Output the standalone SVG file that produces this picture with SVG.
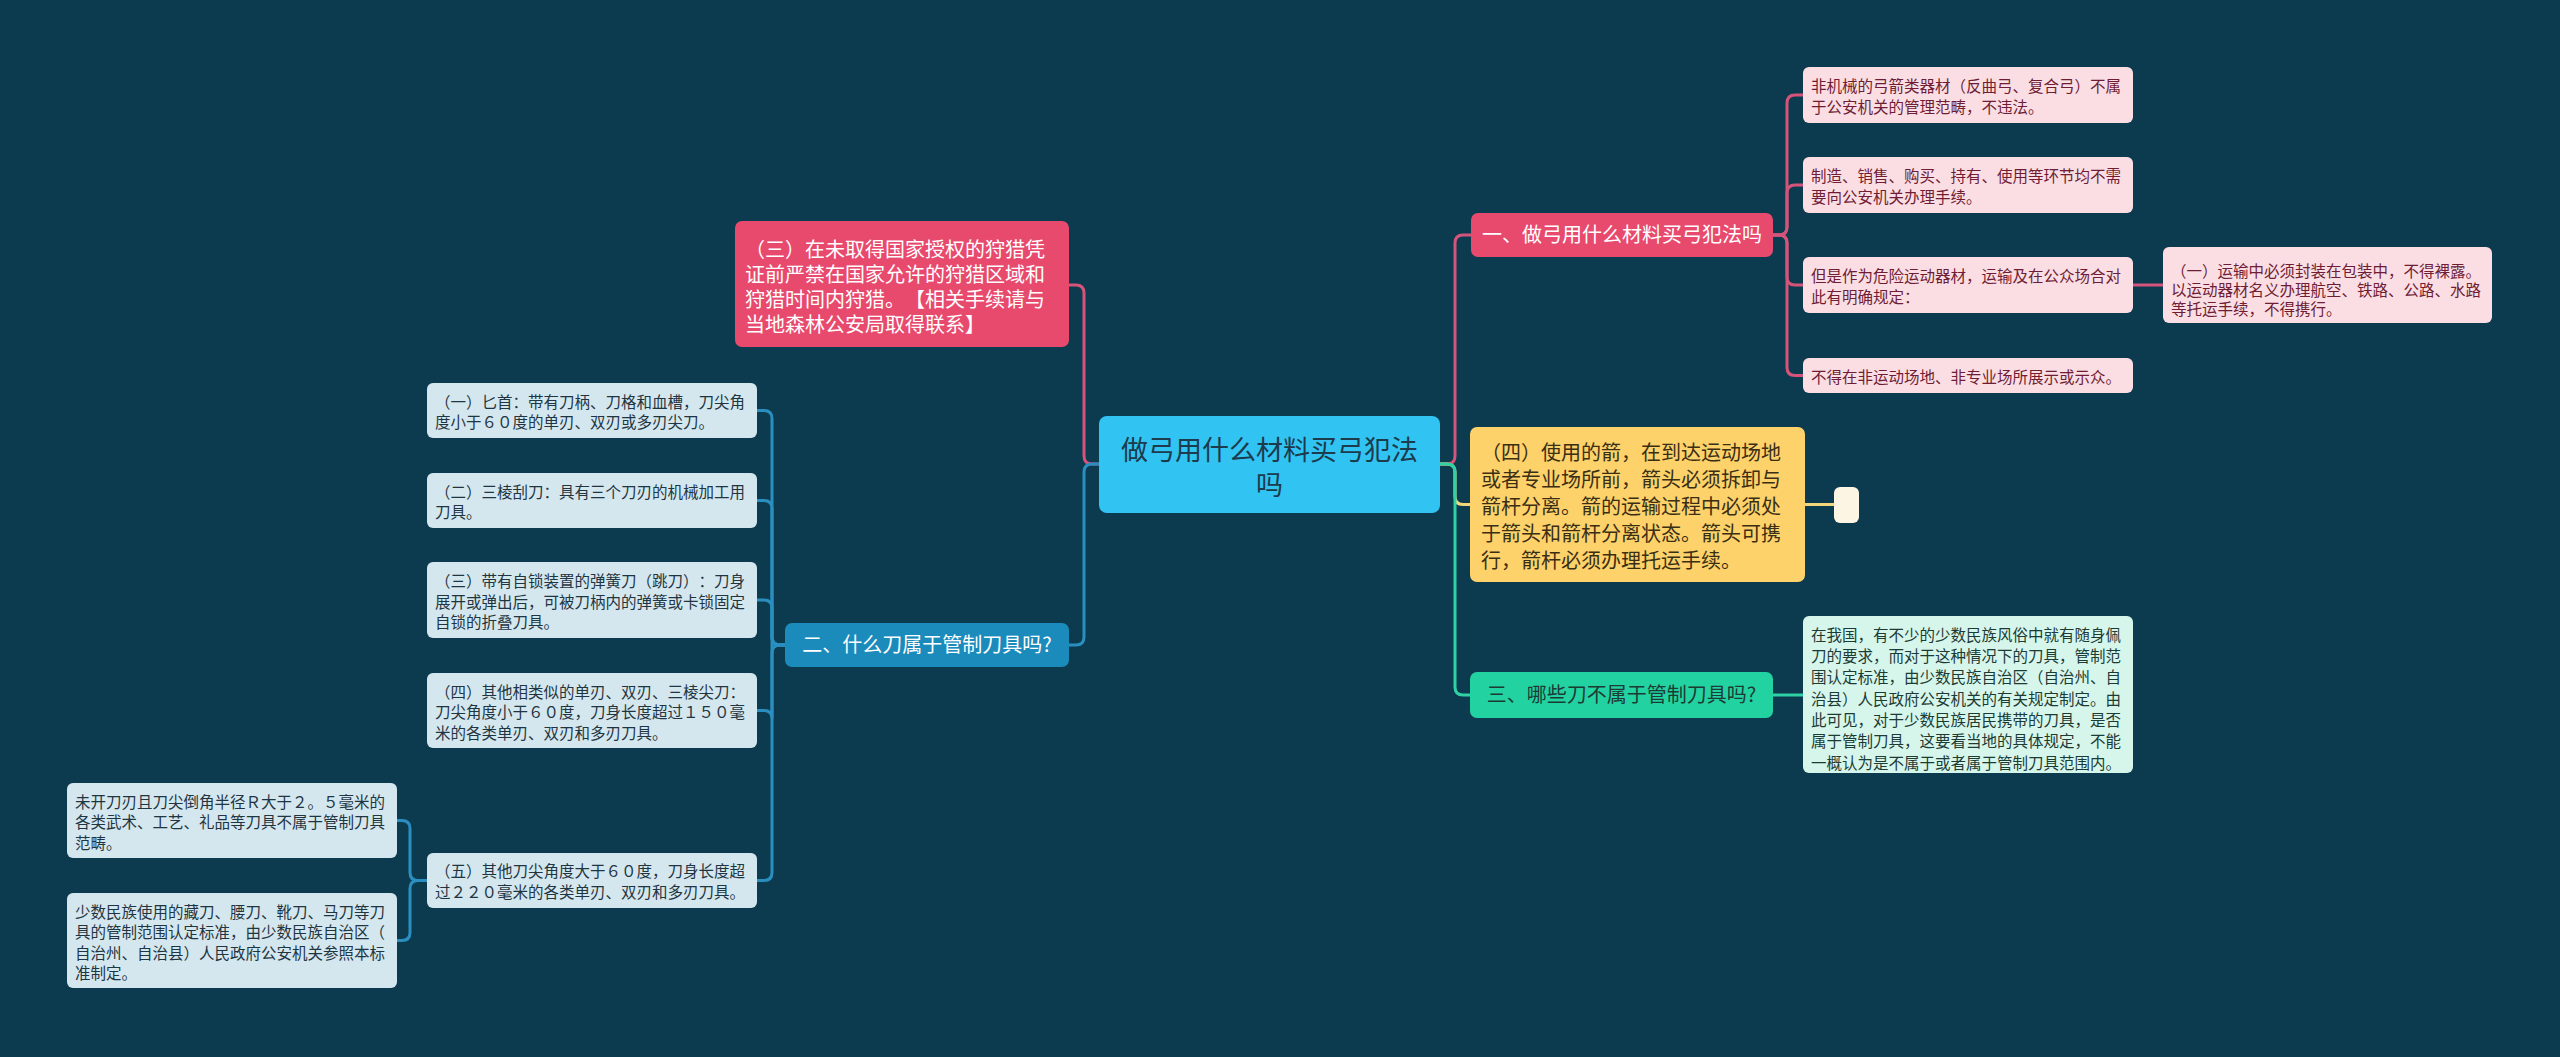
<svg xmlns="http://www.w3.org/2000/svg" width="2560" height="1057" viewBox="0 0 2560 1057">
<style>
text{font-family:"Noto Sans CJK SC","Noto Sans",sans-serif;text-spacing-trim:space-all;font-kerning:none;}
.s{font-size:15.5px;}
.m{font-size:20px;}
.c{font-size:27px;fill:#1c3b4d;}
.w{fill:#ffffff;}
.tb{fill:#1f3542;}
.tp{fill:#6e1d35;}
.tg{fill:#1d3b35;}
.ty{fill:#3a2e14;}
.lb{fill:#d4e7ef;}
.lp{fill:#fbdee4;}
.lg{fill:#d6f6ec;}
.cp{fill:none;stroke:#d4547a;stroke-width:3;}
.cb{fill:none;stroke:#2a8fc0;stroke-width:3;}
.cy{fill:none;stroke:#f3d57c;stroke-width:3;}
.cg{fill:none;stroke:#2fd1a5;stroke-width:3;}
</style>
<rect x="0" y="0" width="2560" height="1057" fill="#0c3a4e"/>
<g id="connectors">
<path class="cp" d="M1099,464 H1092 Q1084,464 1084,456 V293 Q1084,285 1076,285 H1069"/>
<path class="cb" d="M1099,464 H1092 Q1084,464 1084,472 V637 Q1084,645 1076,645 H1069"/>
<path class="cb" d="M785,645 H780 Q772,645 772,637 V418.5 Q772,410.5 764,410.5 H757"/>
<path class="cb" d="M785,645 H780 Q772,645 772,637 V508.5 Q772,500.5 764,500.5 H757"/>
<path class="cb" d="M785,645 H780 Q772,645 772,637 V608 Q772,600 764,600 H757"/>
<path class="cb" d="M785,645 H780 Q772,645 772,637 V718.5 Q772,710.5 764,710.5 H757"/>
<path class="cb" d="M785,645 H780 Q772,645 772,653 V872.5 Q772,880.5 764,880.5 H757"/>
<path class="cb" d="M427,880.5 H418 Q410,880.5 410,872.5 V828.5 Q410,820.5 402,820.5 H397"/>
<path class="cb" d="M427,880.5 H418 Q410,880.5 410,888.5 V932.5 Q410,940.5 402,940.5 H397"/>
<path class="cp" d="M1440,464 H1447 Q1455,464 1455,456 V243 Q1455,235 1463,235 H1471"/>
<path class="cy" d="M1440,464 H1447 Q1455,464 1455,472 V496.5 Q1455,504.5 1463,504.5 H1470"/>
<path class="cg" d="M1440,464 H1447 Q1455,464 1455,472 V687 Q1455,695 1463,695 H1470"/>
<path class="cp" d="M1773,235 H1779 Q1787,235 1787,227 V103 Q1787,95 1795,95 H1803"/>
<path class="cp" d="M1773,235 H1779 Q1787,235 1787,227 V193 Q1787,185 1795,185 H1803"/>
<path class="cp" d="M1773,235 H1779 Q1787,235 1787,243 V277 Q1787,285 1795,285 H1803"/>
<path class="cp" d="M1773,235 H1779 Q1787,235 1787,243 V367.5 Q1787,375.5 1795,375.5 H1803"/>
<path class="cp" d="M2133,285 H2163"/>
<path class="cy" d="M1805,504.5 H1834"/>
<path class="cg" d="M1773,695 H1803"/>
</g>
<g id="root">
<rect x="1099" y="416" width="341" height="97" rx="8" fill="#31c4f2"/>
<text class="c" x="1269.5" y="459.5" text-anchor="middle">做弓用什么材料买弓犯法</text>
<text class="c" x="1269.5" y="494.5" text-anchor="middle">吗</text>
</g>
<g id="n-hunt">
<rect x="735" y="221" width="334" height="126" rx="7" fill="#e84a6e"/>
<text class="m w" x="745" y="257">（三）在未取得国家授权的狩猎凭</text>
<text class="m w" x="745" y="282">证前严禁在国家允许的狩猎区域和</text>
<text class="m w" x="745" y="307">狩猎时间内狩猎。【相关手续请与</text>
<text class="m w" x="745" y="332">当地森林公安局取得联系】</text>
</g>
<g id="n-knife">
<rect x="785" y="623" width="284" height="44" rx="7" fill="#1b8bbb"/>
<text class="m w" x="927" y="652" text-anchor="middle">二、什么刀属于管制刀具吗?</text>
</g>
<g id="k1">
<rect class="lb" x="427" y="383" width="330" height="55" rx="6"/>
<text class="s tb" x="435" y="407.5">（一）匕首：带有刀柄、刀格和血槽，刀尖角</text>
<text class="s tb" x="435" y="427.5">度小于６０度的单刃、双刃或多刃尖刀。</text>
</g>
<g id="k2">
<rect class="lb" x="427" y="473" width="330" height="55" rx="6"/>
<text class="s tb" x="435" y="497.5">（二）三棱刮刀：具有三个刀刃的机械加工用</text>
<text class="s tb" x="435" y="518">刀具。</text>
</g>
<g id="k3">
<rect class="lb" x="427" y="562" width="330" height="76" rx="6"/>
<text class="s tb" x="435" y="587">（三）带有自锁装置的弹簧刀（跳刀）：刀身</text>
<text class="s tb" x="435" y="607.5">展开或弹出后，可被刀柄内的弹簧或卡锁固定</text>
<text class="s tb" x="435" y="628">自锁的折叠刀具。</text>
</g>
<g id="k4">
<rect class="lb" x="427" y="673" width="330" height="75" rx="6"/>
<text class="s tb" x="435" y="697.5">（四）其他相类似的单刃、双刃、三棱尖刀：</text>
<text class="s tb" x="435" y="718">刀尖角度小于６０度，刀身长度超过１５０毫</text>
<text class="s tb" x="435" y="738.5">米的各类单刃、双刃和多刃刀具。</text>
</g>
<g id="k5">
<rect class="lb" x="427" y="853" width="330" height="55" rx="6"/>
<text class="s tb" x="435" y="877">（五）其他刀尖角度大于６０度，刀身长度超</text>
<text class="s tb" x="435" y="897.5">过２２０毫米的各类单刃、双刃和多刃刀具。</text>
</g>
<g id="k5a">
<rect class="lb" x="67" y="783" width="330" height="75" rx="6"/>
<text class="s tb" x="75" y="807.5">未开刀刃且刀尖倒角半径Ｒ大于２。５毫米的</text>
<text class="s tb" x="75" y="828">各类武术、工艺、礼品等刀具不属于管制刀具</text>
<text class="s tb" x="75" y="848.5">范畴。</text>
</g>
<g id="k5b">
<rect class="lb" x="67" y="893" width="330" height="95" rx="6"/>
<text class="s tb" x="75" y="917.5">少数民族使用的藏刀、腰刀、靴刀、马刀等刀</text>
<text class="s tb" x="75" y="938">具的管制范围认定标准，由少数民族自治区（</text>
<text class="s tb" x="75" y="958.5">自治州、自治县）人民政府公安机关参照本标</text>
<text class="s tb" x="75" y="979">准制定。</text>
</g>
<g id="n-bow">
<rect x="1471" y="213" width="302" height="44" rx="7" fill="#e84a6e"/>
<text class="m w" x="1622" y="242" text-anchor="middle">一、做弓用什么材料买弓犯法吗</text>
</g>
<g id="b1">
<rect class="lp" x="1803" y="67" width="330" height="56" rx="6"/>
<text class="s tp" x="1811" y="92">非机械的弓箭类器材（反曲弓、复合弓）不属</text>
<text class="s tp" x="1811" y="112.5">于公安机关的管理范畴，不违法。</text>
</g>
<g id="b2">
<rect class="lp" x="1803" y="157" width="330" height="56" rx="6"/>
<text class="s tp" x="1811" y="182">制造、销售、购买、持有、使用等环节均不需</text>
<text class="s tp" x="1811" y="202.5">要向公安机关办理手续。</text>
</g>
<g id="b3">
<rect class="lp" x="1803" y="257" width="330" height="56" rx="6"/>
<text class="s tp" x="1811" y="282">但是作为危险运动器材，运输及在公众场合对</text>
<text class="s tp" x="1811" y="302.5">此有明确规定：</text>
</g>
<g id="b3a">
<rect class="lp" x="2163" y="247" width="329" height="76" rx="6"/>
<text class="s tp" x="2171" y="276.5">（一）运输中必须封装在包装中，不得裸露。</text>
<text class="s tp" x="2171" y="295.5">以运动器材名义办理航空、铁路、公路、水路</text>
<text class="s tp" x="2171" y="314.5">等托运手续，不得携行。</text>
</g>
<g id="b4">
<rect class="lp" x="1803" y="358" width="330" height="35" rx="6"/>
<text class="s tp" x="1811" y="382.5">不得在非运动场地、非专业场所展示或示众。</text>
</g>
<g id="n-arrow">
<rect x="1470" y="427" width="335" height="155" rx="7" fill="#fdd26a"/>
<text class="m ty" x="1481" y="460.3">（四）使用的箭，在到达运动场地</text>
<text class="m ty" x="1481" y="487.1">或者专业场所前，箭头必须拆卸与</text>
<text class="m ty" x="1481" y="513.9">箭杆分离。箭的运输过程中必须处</text>
<text class="m ty" x="1481" y="540.7">于箭头和箭杆分离状态。箭头可携</text>
<text class="m ty" x="1481" y="567.5">行，箭杆必须办理托运手续。</text>
</g>
<g id="n-empty">
<rect x="1834" y="487" width="25" height="36" rx="6" fill="#fdf5e4"/>
</g>
<g id="n-exempt">
<rect x="1470" y="672" width="303" height="46" rx="7" fill="#22d3a1"/>
<text class="m tg" x="1621.5" y="702" text-anchor="middle">三、哪些刀不属于管制刀具吗?</text>
</g>
<g id="g1">
<rect class="lg" x="1803" y="616" width="330" height="157" rx="6"/>
<text class="s tg" x="1811" y="640.5">在我国，有不少的少数民族风俗中就有随身佩</text>
<text class="s tg" x="1811" y="661.8">刀的要求，而对于这种情况下的刀具，管制范</text>
<text class="s tg" x="1811" y="683.2">围认定标准，由少数民族自治区（自治州、自</text>
<text class="s tg" x="1811" y="704.5">治县）人民政府公安机关的有关规定制定。由</text>
<text class="s tg" x="1811" y="725.8">此可见，对于少数民族居民携带的刀具，是否</text>
<text class="s tg" x="1811" y="747.2">属于管制刀具，这要看当地的具体规定，不能</text>
<text class="s tg" x="1811" y="768.5">一概认为是不属于或者属于管制刀具范围内。</text>
</g>
</svg>
